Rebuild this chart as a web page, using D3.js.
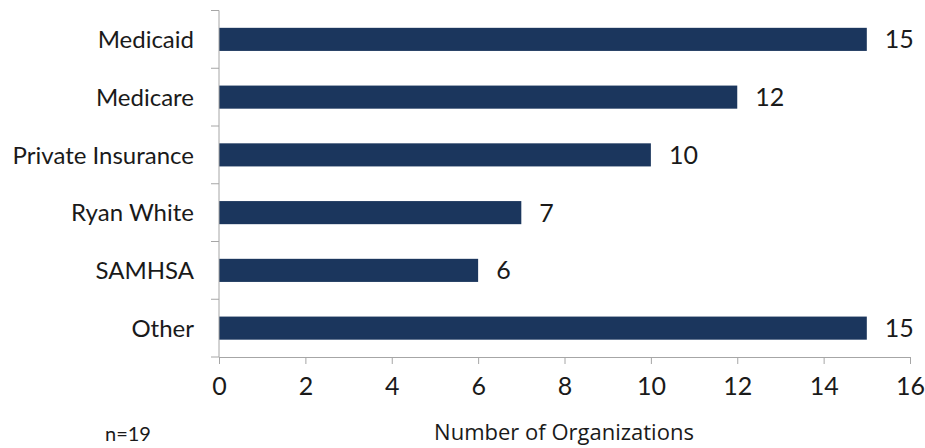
<html>
<head>
<style>
  body { margin: 0; background: #fff; }
  text { font-family: Lato, "Open Sans", sans-serif; fill: #1a1a1a; }
</style>
</head>
<body>
    <svg id="chart"></svg>

    <script src="https://d3js.org/d3.v7.min.js" charset="utf-8"></script>
    <script type="text/javascript">
        // chart data
        const categories = ["Medicaid", "Medicare", "Private Insurance", "Ryan White", "SAMHSA", "Other"]
        const counts = [15, 12, 10, 7, 6, 15]
        const xTicks = [0, 2, 4, 6, 8, 10, 12, 14, 16]
        const xTitle = "Number of Organizations"
        const note = "n=19"

        const width = 925
        const height = 448
        const margin = { top: 10.5, right: 15, bottom: 91, left: 219 }

        const svg = d3.select('#chart')
            .attr('width', width)
            .attr('height', height)

        const x = d3.scaleLinear()
            .domain([0, 16])
            .range([margin.left, 910])

        const y = d3.scaleBand()
            .domain(categories)
            .range([margin.top, height - margin.bottom])
            .paddingInner(0.6)
            .paddingOuter(0.3)

        const rows = categories.map((c, i) => ({ name: c, value: counts[i] }))

        // bars
        svg.selectAll('rect.bar')
            .data(rows)
            .enter()
            .append('rect')
            .attr('class', 'bar')
            .attr('x', x(0))
            .attr('y', d => y(d.name))
            .attr('width', d => x(d.value) - x(0))
            .attr('height', y.bandwidth())
            .style('fill', '#1b365d')

        // value labels
        svg.selectAll('text.val')
            .data(rows)
            .enter()
            .append('text')
            .attr('class', 'val')
            .attr('x', d => x(d.value) + 18)
            .attr('y', d => y(d.name) + y.bandwidth() / 2)
            .attr('dy', '0.36em')
            .style('font-size', '25px')
            .text(d => d.value)

        // x axis
        const xAxis = svg.append('g')
            .attr('transform', `translate(0,${height - margin.bottom})`)
            .call(d3.axisBottom(x).tickValues(xTicks).tickSize(7).tickSizeOuter(0).tickPadding(13))
        xAxis.selectAll('line, path').style('stroke', '#a6a6a6')
        xAxis.selectAll('text').style('font-size', '25px').style('fill', '#1a1a1a')

        // y axis: ticks at band boundaries, labels centred on bars
        const step = y.step()
        const bounds = d3.range(categories.length + 1).map(i => margin.top + i * step)
        const yAxis = svg.append('g')
        yAxis.append('line')
            .attr('x1', x(0)).attr('x2', x(0))
            .attr('y1', margin.top).attr('y2', height - margin.bottom)
            .style('stroke', '#a6a6a6')
        yAxis.selectAll('line.tick')
            .data(bounds)
            .enter()
            .append('line')
            .attr('class', 'tick')
            .attr('x1', x(0) - 8).attr('x2', x(0))
            .attr('y1', d => d).attr('y2', d => d)
            .style('stroke', '#a6a6a6')
        yAxis.selectAll('text')
            .data(categories)
            .enter()
            .append('text')
            .attr('x', x(0) - 25)
            .attr('y', d => y(d) + y.bandwidth() / 2)
            .attr('dy', '0.36em')
            .attr('text-anchor', 'end')
            .style('font-size', '24px')
            .text(d => d)

        // titles
        svg.append('text')
            .attr('x', 564)
            .attr('y', 440)
            .attr('text-anchor', 'middle')
            .style('font-family', '"Open Sans", sans-serif')
            .style('font-size', '22px')
            .text(xTitle)

        svg.append('text')
            .attr('x', 105)
            .attr('y', 441)
            .style('font-size', '20px')
            .text(note)
    </script>
</body>
</html>
